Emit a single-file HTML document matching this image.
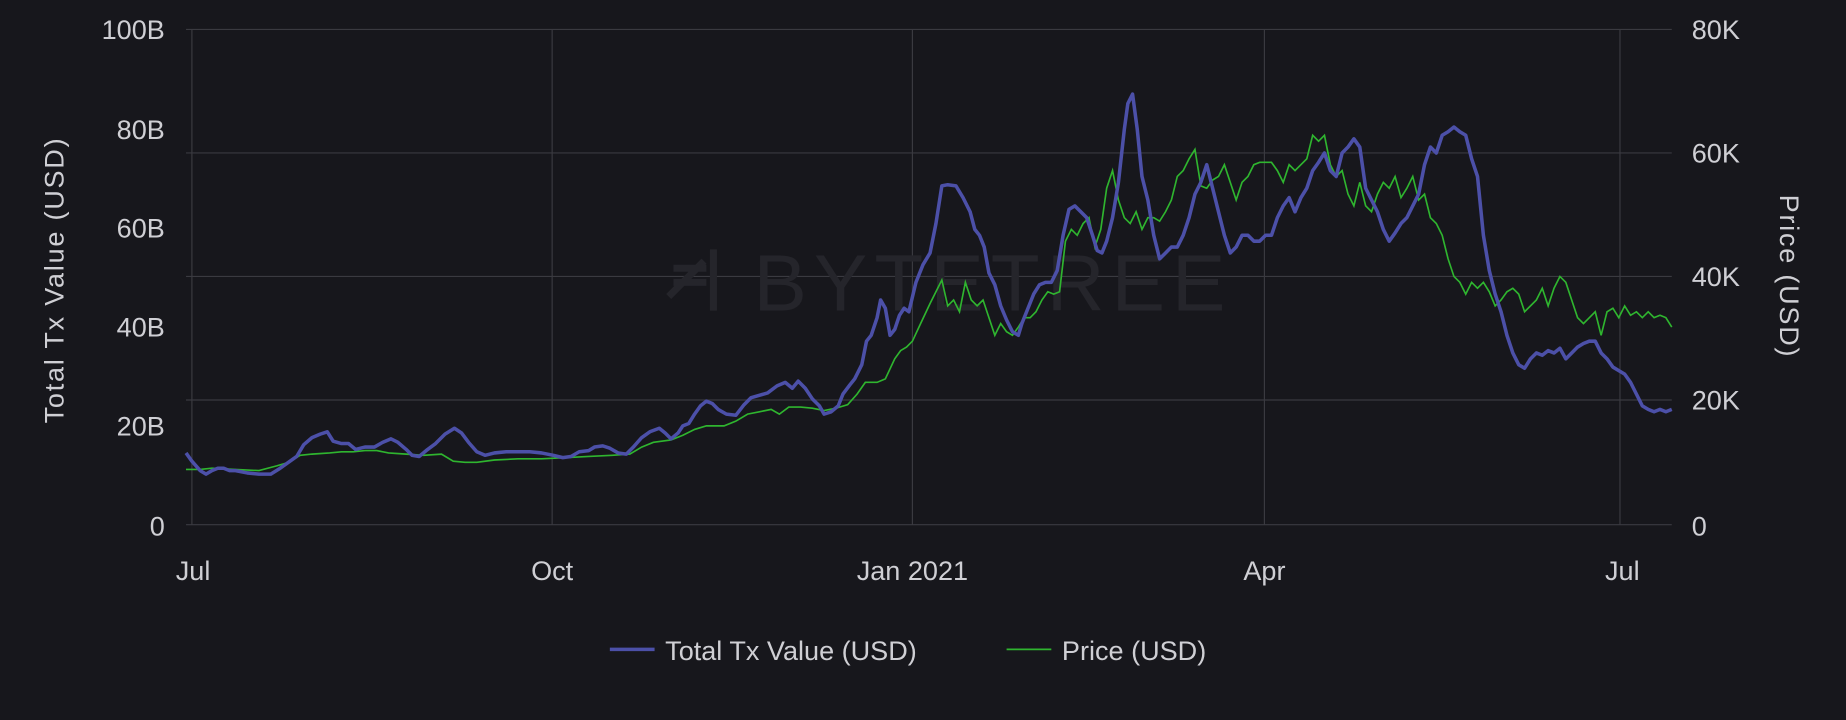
<!DOCTYPE html>
<html><head><meta charset="utf-8"><style>
html,body{margin:0;padding:0;background:#17171c;overflow:hidden}
svg{display:block}
text{font-family:"Liberation Sans",sans-serif;fill:#cfcfd4}
</style></head><body>
<svg width="1846" height="720" viewBox="0 0 1568 612" preserveAspectRatio="none">
<rect width="1568" height="612" fill="#17171c"/>
<g stroke="#3a3a40" stroke-width="1">
<line x1="158" y1="25" x2="1420" y2="25"/>
<line x1="158" y1="130" x2="1420" y2="130"/>
<line x1="158" y1="235" x2="1420" y2="235"/>
<line x1="158" y1="340" x2="1420" y2="340"/>
<line x1="158" y1="446" x2="1420" y2="446"/>
<line x1="163" y1="25" x2="163" y2="446"/>
<line x1="469" y1="25" x2="469" y2="446"/>
<line x1="775" y1="25" x2="775" y2="446"/>
<line x1="1074" y1="25" x2="1074" y2="446"/>
<line x1="1376" y1="25" x2="1376" y2="446"/>
</g>
<g>
<text x="640" y="264" font-size="68" style="fill:#25252b" letter-spacing="6">BYTETREE</text>
<path d="M568 252 L598 222 M572 240 H600 M572 228 H600 M606 212 V264" stroke="#25252b" stroke-width="6" fill="none"/>
</g>
<g font-size="23" text-anchor="end">
<text x="140" y="33">100B</text>
<text x="140" y="118">80B</text>
<text x="140" y="202">60B</text>
<text x="140" y="286">40B</text>
<text x="140" y="370">20B</text>
<text x="140" y="455">0</text>
</g>
<g font-size="23" text-anchor="start">
<text x="1437" y="33">80K</text>
<text x="1437" y="138">60K</text>
<text x="1437" y="243">40K</text>
<text x="1437" y="348">20K</text>
<text x="1437" y="455">0</text>
</g>
<g font-size="23" text-anchor="middle">
<text x="164" y="493">Jul</text>
<text x="469" y="493">Oct</text>
<text x="775" y="493">Jan 2021</text>
<text x="1074" y="493">Apr</text>
<text x="1378" y="493">Jul</text>
</g>
<text transform="translate(54,238) rotate(-90)" font-size="23" text-anchor="middle" letter-spacing="1.5">Total Tx Value (USD)</text>
<text transform="translate(1512,235) rotate(90)" font-size="23" text-anchor="middle" letter-spacing="1.5">Price (USD)</text>
<polyline fill="none" stroke="#2fb52f" stroke-width="1.4" points="158,399 170,399 180,398 200,399 220,400 235,396 245,393 255,387 265,386 280,385 290,384 300,384 310,383 320,383 330,385 345,386 360,387 375,386 385,392 395,393 405,393 420,391 440,390 460,390 480,389 500,388 520,387 535,386 545,380 555,376 570,374 580,370 590,365 600,362 615,362 625,358 635,352 645,350 655,348 662,352 670,346 680,346 690,347 700,349 710,347 720,344 728,335 735,325 745,325 752,322 760,305 765,298 770,295 775,290 782,275 790,258 795,248 800,238 805,260 810,255 815,265 820,240 825,255 830,260 835,255 840,270 845,285 850,275 855,282 860,285 865,278 870,270 875,270 880,265 885,255 890,248 895,250 900,248 905,205 910,195 915,200 920,190 925,185 930,210 935,195 940,160 945,145 950,170 955,185 960,190 965,180 970,195 975,185 980,185 985,188 990,180 995,170 1000,150 1005,145 1010,135 1015,127 1020,158 1025,160 1030,153 1035,150 1040,140 1045,155 1050,170 1055,155 1060,150 1065,140 1070,138 1080,138 1085,145 1090,155 1095,140 1100,145 1105,140 1110,135 1115,115 1120,120 1125,115 1130,140 1135,150 1140,145 1145,165 1150,175 1155,155 1160,175 1165,180 1170,165 1175,155 1180,160 1185,150 1190,168 1195,160 1200,150 1205,170 1210,165 1215,185 1220,190 1225,200 1230,220 1235,235 1240,240 1245,250 1250,240 1255,245 1260,240 1265,248 1270,260 1275,255 1280,248 1285,245 1290,250 1295,265 1300,260 1305,255 1310,245 1315,260 1320,245 1325,235 1330,240 1335,255 1340,270 1345,275 1350,270 1355,265 1360,285 1365,265 1370,262 1375,270 1380,260 1385,268 1390,265 1395,270 1400,265 1405,270 1410,268 1415,270 1420,278"/>
<polyline fill="none" stroke="#4c50a8" stroke-width="3" stroke-linejoin="round" points="158,385 163,392 170,400 175,403 180,400 185,398 190,398 195,400 200,400 210,402 220,403 230,403 238,398 245,393 252,388 258,378 265,372 272,369 278,367 283,375 290,377 296,377 302,382 310,380 318,380 325,376 332,373 338,376 345,382 350,387 356,388 362,383 370,377 378,369 386,364 392,368 398,376 405,384 412,387 420,385 430,384 440,384 450,384 460,385 470,387 478,389 485,388 492,384 500,383 505,380 512,379 518,381 525,385 532,386 538,380 545,372 552,367 560,364 565,368 570,373 576,368 580,362 585,360 590,352 595,345 600,341 605,343 610,348 617,352 625,353 632,344 638,338 645,336 652,334 660,328 667,325 673,330 678,324 684,330 690,339 696,345 700,352 706,350 712,345 716,335 722,327 726,322 732,310 736,290 740,285 745,270 748,255 752,262 756,285 760,280 764,268 768,262 772,265 778,240 784,225 790,215 795,190 800,158 805,157 812,158 818,168 824,180 828,195 832,200 836,210 840,232 845,242 850,260 855,272 860,282 865,285 868,275 872,265 878,250 883,242 888,240 893,240 898,230 903,200 908,178 913,175 918,180 923,185 928,200 932,213 936,215 940,205 945,185 950,155 955,110 958,88 962,80 966,110 970,150 975,170 980,200 985,220 990,215 995,210 1000,210 1005,200 1010,185 1015,165 1020,155 1025,140 1030,160 1035,180 1040,200 1045,215 1050,210 1055,200 1060,200 1065,205 1070,205 1075,200 1080,200 1085,185 1090,175 1095,168 1100,180 1105,168 1110,160 1115,145 1120,138 1125,130 1130,145 1135,150 1140,130 1145,125 1150,118 1155,125 1160,160 1165,170 1170,180 1175,195 1180,205 1185,198 1190,190 1195,185 1200,175 1205,165 1210,140 1215,125 1220,130 1225,115 1230,112 1235,108 1240,112 1245,115 1250,135 1255,150 1260,200 1265,230 1270,250 1275,265 1280,285 1285,300 1290,310 1295,313 1300,305 1305,300 1310,302 1315,298 1320,300 1325,296 1330,305 1335,300 1340,295 1345,292 1350,290 1355,290 1360,300 1365,305 1370,312 1375,315 1380,318 1385,325 1390,335 1395,345 1400,348 1405,350 1410,348 1415,350 1420,348"/>
<line x1="518" y1="552" x2="556" y2="552" stroke="#4c50a8" stroke-width="3"/>
<text x="565" y="561" font-size="23">Total Tx Value (USD)</text>
<line x1="855" y1="552" x2="893" y2="552" stroke="#2fb52f" stroke-width="1.5"/>
<text x="902" y="561" font-size="23">Price (USD)</text>
</svg>
</body></html>
